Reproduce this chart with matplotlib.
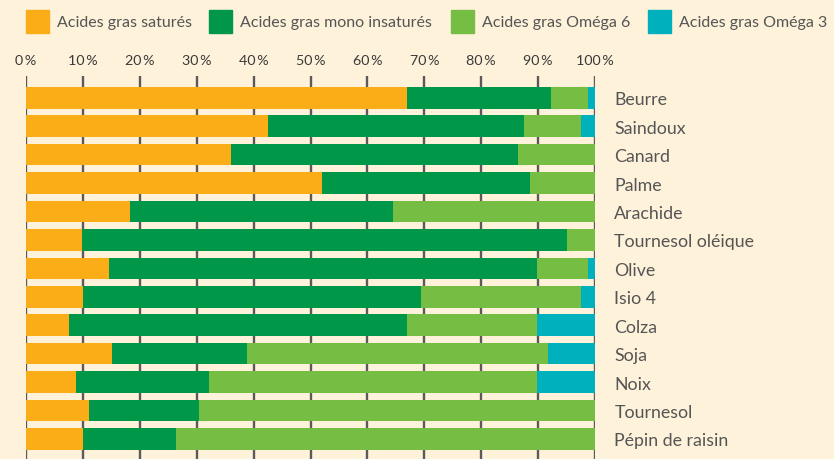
import matplotlib
matplotlib.use("Agg")
import matplotlib.pyplot as plt
from matplotlib.patches import Rectangle

# composition en acides gras (% du total)
huiles = ["Beurre", "Saindoux", "Canard", "Palme", "Arachide",
          "Tournesol oléique", "Olive", "Isio 4", "Colza", "Soja",
          "Noix", "Tournesol", "Pépin de raisin"]
satures = [67, 42.5, 36, 52, 18.3, 9.8, 14.6, 10, 7.6, 15.1, 8.8, 11, 10]
mono = [25.2, 45, 50.4, 36.5, 46.2, 85.3, 75.2, 59.4, 59.3, 23.7, 23.4, 19.4, 16.3]
omega6 = [6.5, 10, 13.6, 11.5, 35.5, 4.9, 8.9, 28.1, 22.9, 52.9, 57.6, 69.6, 73.7]
omega3 = [1.3, 2.5, 0, 0, 0, 0, 1.3, 2.5, 10.2, 8.3, 10.2, 0, 0]

series = ["Acides gras saturés", "Acides gras mono insaturés",
          "Acides gras Oméga 6", "Acides gras Oméga 3"]
couleurs = ["#FBAD18", "#009848", "#76BE43", "#00B1BD"]
ticks = list(range(0, 101, 10))

fond = "#FEF2DA"
texte = "#555555"
plt.rcParams['font.family'] = ['Lato', 'DejaVu Sans']

fig = plt.figure(figsize=(8.34, 4.6), dpi=100, facecolor=fond)
W, H = 834, 460
ax = fig.add_axes([26 / W, 0, (595 - 26) / W, 1 - 77 / H])
ax.set_facecolor(fond)

y = list(range(len(huiles)))
gauche = [0] * len(huiles)
for vals, col, nom in zip([satures, mono, omega6, omega3], couleurs, series):
    ax.barh(y, vals, left=gauche, height=0.76, color=col, label=nom, zorder=3)
    gauche = [g + v for g, v in zip(gauche, vals)]

ax.set_xlim(0, 100)
ax.set_ylim(12.71, -0.77)
ax.set_xticks(ticks, [f"{t}\u2009%" for t in ticks])
ax.xaxis.tick_top()
ax.tick_params(axis="x", length=0, pad=7, labelsize=10.3, colors="#3a3a3a")
ax.set_yticks(y, huiles)
ax.yaxis.tick_right()
ax.tick_params(axis="y", length=0, pad=14, labelsize=12.8, colors=texte)
ax.grid(axis="x", color="#5a5a5a", linewidth=1.7, zorder=0)
for s in ax.spines.values():
    s.set_visible(False)

# légende en haut
carres = [26, 209, 451, 648]
for x0, col, nom in zip(carres, couleurs, series):
    fig.patches.append(Rectangle((x0 / W, 1 - 34 / H), 23 / W, 23 / H,
                                 color=col, transform=fig.transFigure))
    fig.text((x0 + 31) / W, 1 - 22.5 / H, nom, va="center", ha="left",
             fontsize=11.5, color=texte)

fig.savefig("out.png", dpi=100, facecolor=fond)
